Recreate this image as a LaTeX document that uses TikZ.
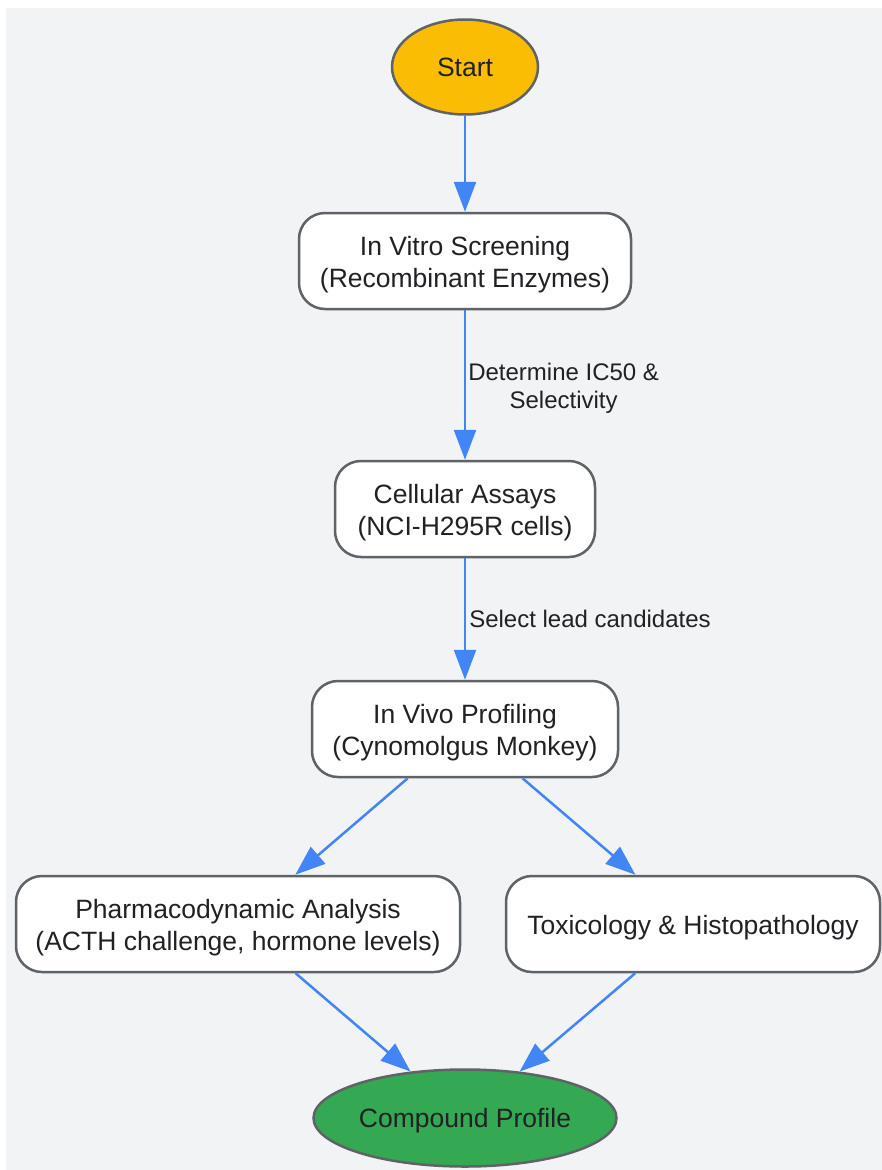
\documentclass[tikz,border=0pt]{standalone}
\usepackage{fontspec}
\setmainfont{Liberation Sans}
\usetikzlibrary{shapes.geometric,arrows.meta}
\definecolor{bgc}{HTML}{F1F3F4}
\definecolor{bordc}{HTML}{5F6368}
\definecolor{txtc}{HTML}{202124}
\definecolor{arrc}{HTML}{4285F4}
\definecolor{yel}{HTML}{FBBC04}
\definecolor{grn}{HTML}{34A853}
\begin{document}
\begin{tikzpicture}[x=1pt,y=-1pt,
  base/.style={draw=bordc,line width=2.5pt,text=txtc,inner sep=0pt,align=center,
    font=\fontsize{26.5}{32}\selectfont},
  procbox/.style={base,rectangle,rounded corners=26pt,fill=white,minimum height=96pt,
    execute at begin node={\rule{0pt}{57.5pt}}},
  procone/.style={base,rectangle,rounded corners=26pt,fill=white,minimum height=96pt,
    execute at begin node={\rule{0pt}{25.5pt}}},
  oval/.style={base,ellipse,text height=19pt,text depth=0pt},
  flow/.style={draw=arrc,line width=2.5pt,-{Triangle[length=30pt,width=22pt]}},
  elabel/.style={text=txtc,font=\fontsize{24}{28}\selectfont,align=center,inner sep=0pt,anchor=west}
]
\useasboundingbox (0,0) rectangle (882,1170);
\fill[white] (0,0) rectangle (882,1170);
\fill[bgc] (6,8) rectangle (882,1170);

\node[oval,fill=yel,minimum width=146pt,minimum height=95pt] (start) at (465,67) {Start};
\node[procbox,minimum width=332pt] (vitro) at (465,261) {In Vitro Screening\\(Recombinant Enzymes)};
\node[procbox,minimum width=260pt] (cell) at (465,509) {Cellular Assays\\(NCI-H295R cells)};
\node[procbox,minimum width=306pt] (vivo) at (465,729) {In Vivo Profiling\\(Cynomolgus Monkey)};
\node[procbox,minimum width=444pt] (pd) at (238,924) {Pharmacodynamic Analysis\\(ACTH challenge, hormone levels)};
\node[procone,minimum width=374pt] (tox) at (693,924) {Toxicology \& Histopathology};
\node[oval,fill=grn,minimum width=303pt,minimum height=97pt] (comp) at (465,1118) {Compound Profile};

\draw[flow] (start) -- (vitro);
\draw[flow] (vitro) -- node[elabel,xshift=2pt,yshift=-3pt] (l1) {Determine IC50 \&\\Selectivity} (cell);
\draw[flow] (cell) -- node[elabel,xshift=3pt] (l2) {Select lead candidates} (vivo);
\draw[flow] (vivo) -- (pd);
\draw[flow] (vivo) -- (tox);
\draw[flow] (pd) -- (comp);
\draw[flow] (tox) -- (comp);
\end{tikzpicture}
\end{document}
